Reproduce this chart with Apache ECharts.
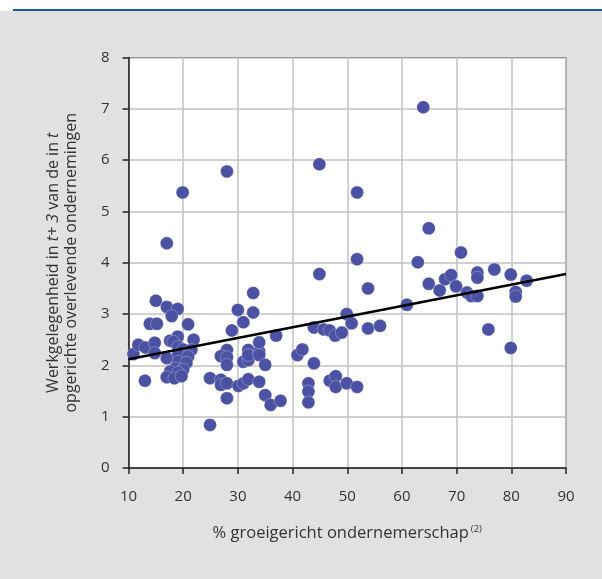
<!DOCTYPE html>
<html><head><meta charset="utf-8">
<script src="https://cdn.jsdelivr.net/npm/echarts@6/dist/echarts.min.js"></script>
<style>html,body{margin:0;padding:0;background:#fff}#c{width:602px;height:579px}</style>
</head><body><div id="c"></div>
<script>
// growth-oriented entrepreneurship (%) and employment ratio
const xValues = [10.9,11.8,13.1,13.0,13.9,15.2,15.0,14.8,14.8,17.0,19.0,17.9,17.0,19.9,20.9,17.6,19.0,18.2,21.9,17.0,19.1,20.0,21.5,19.1,20.9,19.1,20.6,18.5,20.0,17.6,19.1,17.0,18.4,19.7,
  24.9,24.9,26.9,26.9,28.0,28.0,28.0,26.9,28.0,28.0,28.9,28.0,30.0,32.8,32.8,31.0,30.1,31.0,31.9,31.0,31.9,31.9,31.9,33.9,33.9,33.9,35.0,33.9,35.0,36.0,37.8,37.0,
  40.9,41.8,43.9,42.9,42.9,42.9,44.9,44.9,43.9,45.7,46.8,47.8,49.0,49.9,50.8,46.8,47.9,47.9,49.9,51.8,51.8,51.8,53.8,53.8,56.0,
  60.9,62.9,63.9,64.9,64.9,66.9,67.9,69.0,69.9,70.8,71.9,72.7,73.8,73.8,73.8,75.8,76.9,79.9,79.9,80.8,80.8,82.8];
const yValues = [2.22,2.40,2.35,1.70,2.81,2.81,3.26,2.44,2.24,3.14,3.10,2.96,4.38,5.37,2.80,2.48,2.56,2.46,2.50,2.14,2.36,2.31,2.30,2.20,2.17,2.07,2.05,1.94,1.92,1.88,1.86,1.77,1.75,1.79,
  1.75,0.84,1.72,1.62,1.65,1.36,2.30,2.18,2.16,2.01,2.68,5.78,3.08,3.41,3.03,2.84,1.60,1.65,1.73,2.07,2.10,2.30,2.20,2.27,2.20,2.45,2.01,1.68,1.42,1.23,1.31,2.58,
  2.20,2.31,2.04,1.65,1.49,1.28,5.92,3.78,2.74,2.70,2.68,2.58,2.64,3.00,2.82,1.70,1.79,1.58,1.65,1.58,5.37,4.07,3.50,2.72,2.77,
  3.18,4.01,7.03,4.67,3.59,3.46,3.68,3.76,3.54,4.20,3.42,3.35,3.35,3.81,3.71,2.70,3.87,3.77,2.34,3.43,3.34,3.65];
const trendX = [10, 90];
const trendY = [2.12, 3.78];
const xTicks = [10,20,30,40,50,60,70,80,90];
const yTicks = [0,1,2,3,4,5,6,7,8];

const FONT = "'Open Sans', 'Noto Sans', sans-serif";
const chart = echarts.init(document.getElementById('c'), null, {renderer: 'canvas'});
chart.setOption({
  backgroundColor: '#e1e1e1',
  animation: false,
  graphic: [
    {type: 'rect', shape: {x: 0, y: 0, width: 602, height: 9}, style: {fill: '#ffffff'}},
    {type: 'rect', shape: {x: 0, y: 9, width: 13, height: 2}, style: {fill: '#ffffff'}},
    {type: 'rect', shape: {x: 13, y: 9, width: 589, height: 2}, style: {fill: '#1d5597'}}
  ],
  grid: {left: 128.5, right: 36, top: 57.5, bottom: 111, show: true, backgroundColor: '#ffffff', borderColor: '#222', borderWidth: 1},
  xAxis: {
    type: 'value', min: xTicks[0], max: xTicks[xTicks.length-1], interval: 10,
    axisLine: {lineStyle: {color: '#222', width: 1.5}},
    axisTick: {show: true, length: 6, lineStyle: {color: '#222', width: 1.5}},
    axisLabel: {color: '#333', fontSize: 15, fontFamily: FONT, margin: 21},
    splitLine: {lineStyle: {color: '#c2c2c2', width: 1.5}},
    name: '{a|% groeigericht ondernemerschap}{s|(2)}',
    nameLocation: 'middle', nameGap: 56,
    nameTextStyle: {rich: {a: {fontSize: 16.5, color: '#333', fontFamily: FONT}, s: {fontSize: 9.5, color: '#333', fontFamily: FONT, verticalAlign: 'top', padding: [0,0,9,2]}}}
  },
  yAxis: {
    type: 'value', min: yTicks[0], max: yTicks[yTicks.length-1], interval: 1,
    axisLine: {show: true, lineStyle: {color: '#222', width: 1.5}},
    axisTick: {show: true, length: 6, lineStyle: {color: '#222', width: 1.5}},
    axisLabel: {color: '#333', fontSize: 15, fontFamily: FONT, margin: 19},
    splitLine: {lineStyle: {color: '#c2c2c2', width: 1.5}},
    name: '{a|Werkgelegenheid in }{i|t+ 3}{a| van de in }{i|t}\n{a|opgerichte overlevende ondernemingen}',
    nameLocation: 'middle', nameGap: 48, nameRotate: 90,
    nameTextStyle: {align: 'center', lineHeight: 18, rich: {
      a: {fontSize: 16, color: '#333', fontFamily: FONT, lineHeight: 18},
      i: {fontSize: 16, color: '#333', fontFamily: FONT, fontStyle: 'italic', lineHeight: 18}
    }}
  },
  series: [
    {type: 'scatter', data: xValues.map((x, i) => [x, yValues[i]]), symbolSize: 13,
     itemStyle: {color: '#4b52a3', borderColor: 'rgba(255,255,255,0.45)', borderWidth: 0.6, opacity: 1}, z: 3},
    {type: 'line', data: trendX.map((x, i) => [x, trendY[i]]), symbol: 'none',
     lineStyle: {color: '#000', width: 2.5}, z: 4, silent: true}
  ]
});
</script></body></html>
